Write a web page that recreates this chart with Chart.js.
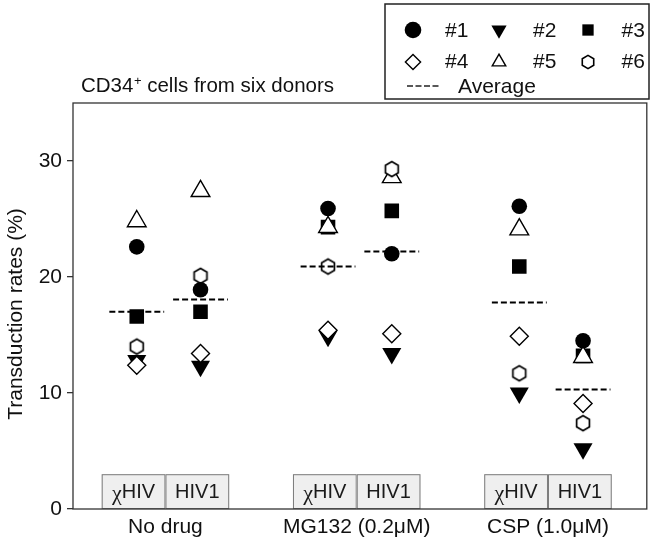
<!DOCTYPE html>
<html><head><meta charset="utf-8">
<script src="https://cdn.jsdelivr.net/npm/chart.js@4.4.1/dist/chart.umd.min.js"></script>
<style>html,body{margin:0;padding:0;background:#fff}#wrap{width:659px;height:545px;position:relative}</style>
</head><body><div id="wrap"><canvas id="c" width="659" height="545"></canvas></div>
<script>
// ---- data ----
const groups = ['No drug', 'MG132 (0.2\u03bcM)', 'CSP (1.0\u03bcM)'];
const viruses = ['\u03c7HIV', 'HIV1'];
const donorNames = ['#1', '#2', '#3', '#4', '#5', '#6'];
// column order: NoDrug-χHIV, NoDrug-HIV1, MG132-χHIV, MG132-HIV1, CSP-χHIV, CSP-HIV1
const donor1 = [22.6, 18.9, 25.9, 22.0, 26.1, 14.5];
const donor2 = [12.8, 12.3, 14.9, 13.4, 10.0, 5.2];
const donor3 = [16.6, 17.0, 24.3, 25.7, 20.9, 13.2];
const donor4 = [12.4, 13.4, 15.4, 15.1, 14.9, 9.1];
const donor5 = [24.8, 27.4, 24.3, 28.6, 24.1, 13.1];
const donor6 = [14.0, 20.1, 20.9, 29.3, 11.7, 7.4];
const average = [17.0, 18.05, 20.9, 22.2, 17.8, 10.3];
const yTicks = [0, 10, 20, 30];
const titleText = 'CD34';
const titleSup = '+';
const titleRest = ' cells from six donors';
const yTitle = 'Transduction rates (%)';
const avgLabel = 'Average';

// ---- layout helpers ----
const FONT = "'Liberation Sans', Arial, sans-serif";
const colPos = i => Math.floor(i / 2) * 3 + (i % 2) + 1;
const groupCenter = g => g * 3 + 1.5 - 0.05;

function makeHex(r, lw) {
  const s = 2 * Math.ceil(r + lw + 1);
  const cv = document.createElement('canvas');
  cv.width = s; cv.height = s;
  const c = cv.getContext('2d');
  c.beginPath();
  for (let k = 0; k < 6; k++) {
    const a = Math.PI / 3 * k;
    c.lineTo(s / 2 + r * Math.sin(a), s / 2 - r * Math.cos(a));
  }
  c.closePath();
  c.fillStyle = '#fff'; c.fill();
  c.lineWidth = lw; c.strokeStyle = '#000'; c.stroke();
  return cv;
}
const hexPlot = makeHex(7.4, 1.7);
const hexLegend = makeHex(6.6, 1.6);

const donorData = [donor1, donor2, donor3, donor4, donor5, donor6];
const styles = [
  {pointStyle: 'circle', radius: 7.8, rotation: 0, bg: '#000', bw: 0, order: 1, lr: 8.3},
  {pointStyle: 'triangle', radius: 11, rotation: 180, bg: '#000', bw: 0, order: 6, lr: 8.8},
  {pointStyle: 'rect', radius: 10.3, rotation: 0, bg: '#000', bw: 0, order: 5, lr: 8},
  {pointStyle: 'rectRot', radius: 9, rotation: 0, bg: '#fff', bw: 1.4, order: 3, lr: 7.6},
  {pointStyle: 'triangle', radius: 10.8, rotation: 0, bg: '#fff', bw: 1.4, order: 4, lr: 7.8},
  {pointStyle: hexPlot, radius: 7.5, rotation: 0, bg: '#fff', bw: 1.4, order: 2, lr: 6.6, legendStyle: hexLegend},
];

const datasets = donorData.map((arr, d) => ({
  label: donorNames[d],
  data: arr.map((v, i) => ({x: colPos(i), y: v})),
  pointStyle: styles[d].pointStyle,
  pointRadius: styles[d].radius,
  pointRotation: styles[d].rotation,
  backgroundColor: styles[d].bg,
  borderColor: '#000',
  borderWidth: styles[d].bw,
  pointBorderWidth: styles[d].bw,
  showLine: false,
  order: styles[d].order
}));

const avgData = [];
average.forEach((v, i) => {
  avgData.push({x: colPos(i) - 0.43, y: v});
  avgData.push({x: colPos(i) + 0.43, y: v});
  avgData.push({x: colPos(i) + 0.5, y: null});
});
datasets.push({
  label: avgLabel,
  data: avgData,
  showLine: true,
  spanGaps: false,
  pointRadius: 0,
  borderColor: '#000',
  borderWidth: 2,
  borderDash: [6, 3],
  order: 0
});

const decor = {
  id: 'decor',
  beforeDatasetsDraw(chart) {
    const {ctx, chartArea, scales: {x, y}} = chart;
    const unit = x.getPixelForValue(1) - x.getPixelForValue(0);
    const top = y.getPixelForValue(3);
    ctx.save();
    groups.forEach((g, gi) => {
      viruses.forEach((v, vi) => {
        const cx = x.getPixelForValue(groupCenter(gi) + (vi === 0 ? -0.5 : 0.5));
        const left = cx - unit / 2;
        ctx.fillStyle = '#efefef';
        ctx.fillRect(left, top, unit, chartArea.bottom - top);
        ctx.strokeStyle = '#7a7a7a';
        ctx.lineWidth = 1;
        ctx.strokeRect(left + 0.5, top + 0.5, unit - 1, chartArea.bottom - top - 1);
        ctx.fillStyle = '#1a1a1a';
        ctx.textBaseline = 'middle';
        const my = (top + chartArea.bottom) / 2 + 1;
        if (v.charAt(0) === '\u03c7') {
          const chi = v.charAt(0), rest = v.slice(1);
          const chiFont = "22px 'Liberation Serif', 'DejaVu Serif', serif";
          ctx.font = chiFont;
          const w1 = ctx.measureText(chi).width;
          ctx.font = '20px ' + FONT;
          const w2 = ctx.measureText(rest).width;
          let sx = cx - (w1 + w2) / 2;
          ctx.textAlign = 'left';
          ctx.font = chiFont;
          ctx.fillText(chi, sx, my + 2);
          ctx.font = '20px ' + FONT;
          ctx.fillText(rest, sx + w1, my);
        } else {
          ctx.textAlign = 'center';
          ctx.font = '20px ' + FONT;
          ctx.fillText(v, cx, my);
        }
      });
    });
    ctx.restore();
  },
  afterDraw(chart) {
    const {ctx, chartArea} = chart;
    ctx.save();
    // frame
    ctx.strokeStyle = '#333';
    ctx.lineWidth = 1.3;
    ctx.strokeRect(chartArea.left, chartArea.top, chartArea.right - chartArea.left, chartArea.bottom - chartArea.top);
    // title
    ctx.fillStyle = '#111';
    ctx.textBaseline = 'alphabetic';
    ctx.textAlign = 'left';
    let tx = 81;
    const ty = 92;
    ctx.font = '20.5px ' + FONT;
    ctx.fillText(titleText, tx, ty);
    tx += ctx.measureText(titleText).width + 0.5;
    ctx.font = '13px ' + FONT;
    ctx.fillText(titleSup, tx, ty - 7);
    tx += ctx.measureText(titleSup).width;
    ctx.font = '20.5px ' + FONT;
    ctx.fillText(titleRest, tx, ty);
    // y title
    ctx.save();
    ctx.translate(16, 314);
    ctx.rotate(-Math.PI / 2);
    ctx.textAlign = 'center';
    ctx.textBaseline = 'middle';
    ctx.font = '21px ' + FONT;
    ctx.fillText(yTitle, 0, 0);
    ctx.restore();
    // legend
    const W = chart.width;
    const bx = W - 274, by = 4, bw = 264, bh = 95;
    ctx.fillStyle = '#fff';
    ctx.fillRect(bx, by, bw, bh);
    ctx.strokeStyle = '#222';
    ctx.lineWidth = 1.5;
    ctx.strokeRect(bx, by, bw, bh);
    const colMarkX = [bx + 27.5, bx + 113.5, bx + 202.5];
    const colTextX = [bx + 60, bx + 148, bx + 236.5];
    const rowY = [by + 26, by + 57.5];
    donorNames.forEach((name, d) => {
      const r = Math.floor(d / 3), c = d % 3;
      const st = styles[d];
      ctx.fillStyle = st.bg;
      ctx.strokeStyle = '#000';
      ctx.lineWidth = st.bw || 1;
      Chart.helpers.drawPoint(ctx, {
        pointStyle: st.legendStyle || st.pointStyle,
        radius: st.lr,
        rotation: st.rotation,
        borderWidth: st.bw
      }, Math.round(colMarkX[c]), Math.round(rowY[r]));
      ctx.fillStyle = '#111';
      ctx.font = '21px ' + FONT;
      ctx.textAlign = 'left';
      ctx.textBaseline = 'middle';
      ctx.fillText(name, colTextX[c], rowY[r] + 1);
    });
    const ay = by + 82;
    ctx.strokeStyle = '#222';
    ctx.lineWidth = 1.4;
    ctx.setLineDash([6, 2.5]);
    ctx.beginPath();
    ctx.moveTo(bx + 22, ay);
    ctx.lineTo(bx + 54, ay);
    ctx.stroke();
    ctx.setLineDash([]);
    ctx.fillStyle = '#111';
    ctx.font = '21px ' + FONT;
    ctx.textAlign = 'left';
    ctx.fillText(avgLabel, bx + 73, ay + 1);
    ctx.restore();
  }
};

Chart.defaults.font.family = FONT;
Chart.defaults.color = '#111';

new Chart(document.getElementById('c'), {
  type: 'scatter',
  data: {datasets},
  options: {
    responsive: false,
    animation: false,
    events: [],
    layout: {padding: {top: 103, right: 7, bottom: 0, left: 0}},
    plugins: {legend: {display: false}, tooltip: {enabled: false}, title: {display: false}},
    scales: {
      x: {
        type: 'linear', min: 0, max: 9,
        afterBuildTicks: s => { s.ticks = groups.map((g, i) => ({value: groupCenter(i)})); },
        ticks: {
          autoSkip: false, maxRotation: 0, padding: 6,
          font: {size: 21}, color: '#111',
          callback: (v, idx) => groups[idx]
        },
        grid: {display: false, drawTicks: false},
        border: {display: false},
        afterFit: s => { s.height = 36; }
      },
      y: {
        min: 0, max: 35,
        afterBuildTicks: s => { s.ticks = yTicks.map(v => ({value: v})); },
        ticks: {font: {size: 21}, color: '#111', padding: 5},
        grid: {drawOnChartArea: false, drawTicks: true, tickLength: 6, color: '#333', lineWidth: 1.3},
        border: {display: false},
        afterFit: s => { s.width = 73; }
      }
    }
  },
  plugins: [decor]
});
</script>
</body></html>
